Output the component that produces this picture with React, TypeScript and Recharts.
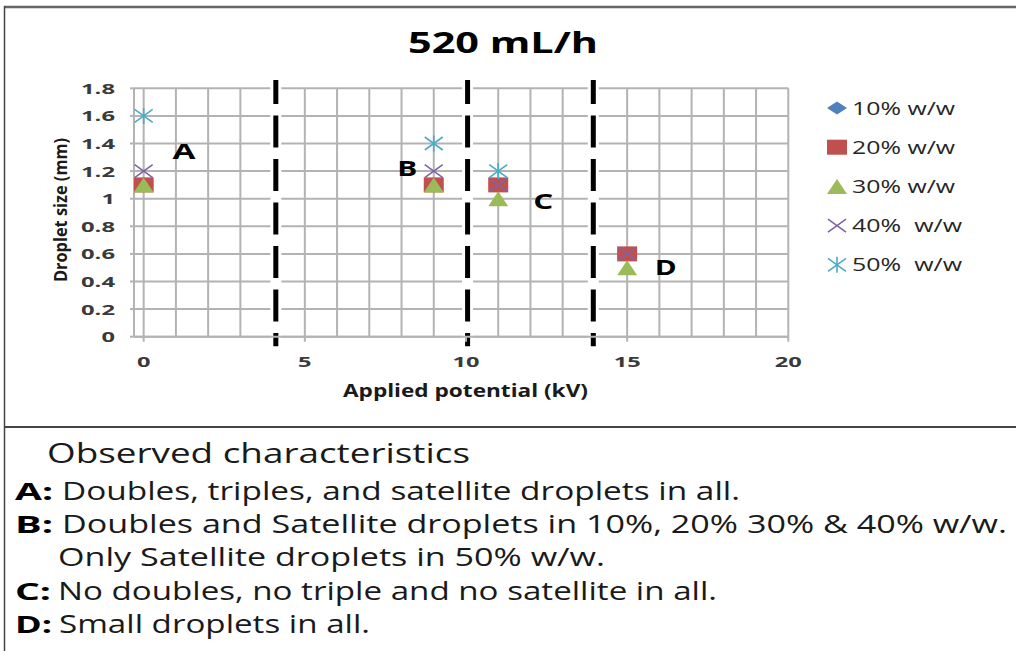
import { ScatterChart, Scatter, XAxis, YAxis, CartesianGrid, ReferenceLine, Legend } from 'recharts';

const TITLE = '520 mL/h';
const X_LABEL = 'Applied potential (kV)';
const Y_LABEL = 'Droplet size (mm)';

// applied potential (kV) and droplet size (mm) per concentration
const VOLTAGES = [0, 9, 11, 15];
const SIZE_10 = [1.1, 1.1, 1.1, 0.6];
const SIZE_20 = [1.1, 1.1, 1.1, 0.6];
const SIZE_30 = [1.1, 1.1, 1.0, 0.5];
const SIZE_40 = [1.2, 1.2, 1.1, 0.6];
const SIZE_50 = [1.6, 1.4, 1.2, null];

const SERIES_NAMES = ['10% w/w', '20% w/w', '30% w/w', '40%  w/w', '50%  w/w'];
const SERIES_VALUES = [SIZE_10, SIZE_20, SIZE_30, SIZE_40, SIZE_50];

const X_TICKS = [0, 1, 2, 3, 4, 5, 6, 7, 8, 9, 10, 11, 12, 13, 14, 15, 16, 17, 18, 19, 20];
const X_LABELED = [0, 5, 10, 15, 20];
const Y_TICKS = [0, 0.2, 0.4, 0.6, 0.8, 1, 1.2, 1.4, 1.6, 1.8];

// regime boundaries (kV) and the region letters
const ZONE_BOUNDS = [4.1, 10.05, 13.95];
const ZONE_LABELS = ['A', 'B', 'C', 'D'];
const ZONE_LABEL_X = [1.25, 8.18, 12.4, 16.2];
const ZONE_LABEL_Y = [1.345, 1.226, 0.98, 0.508];

const NOTES_HEADING = 'Observed characteristics';
const NOTE_KEYS = ['A:', 'B:', '', 'C:', 'D:'];
const NOTE_TEXTS = [
    'Doubles, triples, and satellite droplets in all.',
    'Doubles and Satellite droplets in 10%, 20% 30% & 40% w/w.',
    'Only Satellite droplets in 50% w/w.',
    'No doubles, no triple and no satellite in all.',
    'Small droplets in all.',
];

// styling / layout
const FONT = '"Open Sans", "DejaVu Sans", sans-serif';
const COLORS = ['#4F81BD', '#C0504D', '#9BBB59', '#8064A2', '#4BACC6'];
const SHAPES = ['diamond', 'square', 'triangle', 'cross', 'star'];
const GRID = '#b3b3b3';
const GRID_W = 2;
const TICK_COLOR = '#3a3a3a';
const LEGEND_TEXT_W = [103, 103, 103, 110, 110];
const ZONE_LABEL_W = [23, 20, 20, 22];
const NOTE_LAYOUT = [
    { keyW: 38, x: 62, w: 678, y: 500 },
    { keyW: 38, x: 62, w: 945, y: 533 },
    { keyW: 0, x: 58, w: 547, y: 566 },
    { keyW: 36, x: 58, w: 659, y: 600 },
    { keyW: 37, x: 59, w: 311, y: 633 },
];

const stretch = { lengthAdjust: 'spacingAndGlyphs' as const };

const tickWidth = (s: string) => s.split('').reduce((w, c) => w + (c === '.' ? 7 : 13.5), 0);
const fmtY = (v: number) => String(Math.round(v * 10) / 10);

function Marker({ kind, cx, cy, color }: { kind: string; cx: number; cy: number; color: string }) {
    const w = 10;
    const h = 7.5;
    if (kind === 'diamond') {
        return <polygon points={`${cx - w},${cy} ${cx},${cy - h + 1} ${cx + w},${cy} ${cx},${cy + h - 1}`} fill={color} />;
    }
    if (kind === 'square') {
        return <rect x={cx - w} y={cy - h} width={2 * w} height={2 * h} fill={color} />;
    }
    if (kind === 'triangle') {
        return <polygon points={`${cx - w},${cy + h} ${cx},${cy - h} ${cx + w},${cy + h}`} fill={color} />;
    }
    if (kind === 'cross') {
        return (
            <path
                d={`M${cx - 9},${cy - 6.5}L${cx + 9},${cy + 6.5}M${cx - 9},${cy + 6.5}L${cx + 9},${cy - 6.5}`}
                stroke={color}
                strokeWidth={1.6}
                fill="none"
            />
        );
    }
    return (
        <path
            d={`M${cx - 9},${cy - 6.5}L${cx + 9},${cy + 6.5}M${cx - 9},${cy + 6.5}L${cx + 9},${cy - 6.5}M${cx},${cy - 8}L${cx},${cy + 8}`}
            stroke={color}
            strokeWidth={1.6}
            fill="none"
        />
    );
}

function YTick({ x, y, payload }: any) {
    const label = fmtY(payload.value);
    return (
        <g>
            <line x1={x - 4} x2={x} y1={y} y2={y} stroke={GRID} strokeWidth={GRID_W} />
            <text
                x={x - 19}
                y={y + 5.5}
                textAnchor="end"
                textLength={tickWidth(label)}
                {...stretch}
                fontFamily={FONT}
                fontWeight={700}
                fontSize={15}
                fill={TICK_COLOR}
            >
                {label}
            </text>
        </g>
    );
}

function XTick({ x, y, payload }: any) {
    if (!X_LABELED.includes(payload.value)) return <g />;
    const label = String(payload.value);
    return (
        <g>
            <line x1={x} x2={x} y1={y} y2={y + 5} stroke={GRID} strokeWidth={GRID_W} />
            <text
                x={x}
                y={y + 30}
                textAnchor="middle"
                textLength={tickWidth(label)}
                {...stretch}
                fontFamily={FONT}
                fontWeight={700}
                fontSize={15}
                fill={TICK_COLOR}
            >
                {label}
            </text>
        </g>
    );
}

function ZoneLetter(props: any) {
    const { cx, cy, payload } = props;
    return (
        <text
            x={cx}
            y={cy + 8}
            textAnchor="middle"
            textLength={payload.w}
            {...stretch}
            fontFamily={FONT}
            fontWeight={700}
            fontSize={22}
            fill="#000"
        >
            {payload.label}
        </text>
    );
}

function LegendBox() {
    return (
        <svg width={180} height={200}>
            {SERIES_NAMES.map((name, i) => {
                const cy = 20 + i * 39.2;
                return (
                    <g key={name}>
                        <Marker kind={SHAPES[i]} cx={22} cy={cy} color={COLORS[i]} />
                        <text
                            x={37}
                            y={cy + 6.5}
                            textLength={LEGEND_TEXT_W[i]}
                            {...stretch}
                            fontFamily={FONT}
                            fontSize={18}
                            fill="#262626"
                            style={{ whiteSpace: 'pre' }}
                        >
                            {name}
                        </text>
                    </g>
                );
            })}
        </svg>
    );
}

export default function App() {
    const seriesData = SERIES_VALUES.map(values =>
        VOLTAGES.map((x, i) => ({ x, y: values[i] })).filter(p => p.y !== null)
    );
    const zoneData = ZONE_LABELS.map((label, i) => ({
        x: ZONE_LABEL_X[i],
        y: ZONE_LABEL_Y[i],
        label,
        w: ZONE_LABEL_W[i],
    }));

    return (
        <div style={{ position: 'absolute', left: 0, top: 0, width: 1016, height: 651, background: '#fff' }}>
            <div style={{ position: 'absolute', left: 0, top: 0 }}>
                <ScatterChart width={1016} height={426} margin={{ top: 88.3, right: 227.7, left: 0, bottom: 29.3 }}>
                    <CartesianGrid stroke={GRID} strokeWidth={GRID_W} vertical={false} />
                    <XAxis
                        type="number"
                        dataKey="x"
                        domain={[-0.3, 20]}
                        ticks={X_TICKS}
                        interval={0}
                        allowDataOverflow
                        height={60}
                        tickSize={0}
                        tickMargin={0}
                        tickLine={false}
                        axisLine={{ stroke: GRID, strokeWidth: GRID_W }}
                        tick={<XTick />}
                    />
                    <YAxis
                        type="number"
                        dataKey="y"
                        domain={[0, 1.8]}
                        ticks={Y_TICKS}
                        interval={0}
                        allowDataOverflow
                        width={134}
                        tickSize={0}
                        tickMargin={0}
                        tickLine={false}
                        axisLine={{ stroke: GRID, strokeWidth: GRID_W }}
                        tick={<YTick />}
                    />
                    {/* vertical grid at every kV */}
                    {X_TICKS.map(t => (
                        <ReferenceLine key={`g${t}`} x={t} stroke={GRID} strokeWidth={GRID_W} />
                    ))}
                    {ZONE_BOUNDS.map(b => (
                        <ReferenceLine
                            key={`bg${b}`}
                            segment={[{ x: b, y: 1.86 }, { x: b, y: -0.07 }]}
                            stroke="#fff"
                            strokeWidth={11}
                            ifOverflow="visible"
                        />
                    ))}
                    {ZONE_BOUNDS.map(b => (
                        <ReferenceLine
                            key={`ln${b}`}
                            segment={[{ x: b, y: 1.86 }, { x: b, y: -0.07 }]}
                            stroke="#000"
                            strokeWidth={5}
                            strokeDasharray="32 11.5"
                            strokeDashoffset={8}
                            ifOverflow="visible"
                        />
                    ))}
                    {SERIES_NAMES.map((name, i) => (
                        <Scatter
                            key={name}
                            name={name}
                            data={seriesData[i]}
                            fill={COLORS[i]}
                            isAnimationActive={false}
                            shape={(p: any) => <Marker kind={SHAPES[i]} cx={p.cx} cy={p.cy} color={COLORS[i]} />}
                        />
                    ))}
                    <Scatter
                        name="zones"
                        data={zoneData}
                        legendType="none"
                        isAnimationActive={false}
                        shape={ZoneLetter}
                    />
                    <Legend
                        layout="horizontal"
                        verticalAlign="middle"
                        align="center"
                        wrapperStyle={{ left: 815, top: 88, width: 180, height: 200 }}
                        content={() => <LegendBox />}
                    />
                </ScatterChart>
            </div>
            <svg
                width={1016}
                height={651}
                style={{ position: 'absolute', left: 0, top: 0, pointerEvents: 'none' }}
            >
                <line x1={4} x2={1016} y1={7} y2={7} stroke="#666" strokeWidth={2.5} />
                <line x1={4.5} x2={4.5} y1={6} y2={651} stroke="#444" strokeWidth={1.5} />
                <line x1={4} x2={1016} y1={427} y2={427} stroke="#444" strokeWidth={2} />
                <text
                    x={503}
                    y={53}
                    textAnchor="middle"
                    textLength={190}
                    {...stretch}
                    fontFamily={FONT}
                    fontWeight={700}
                    fontSize={28}
                    fill="#000"
                >
                    {TITLE}
                </text>
                <text
                    x={465.5}
                    y={397}
                    textAnchor="middle"
                    textLength={245}
                    {...stretch}
                    fontFamily={FONT}
                    fontWeight={700}
                    fontSize={17}
                    fill="#1a1a1a"
                >
                    {X_LABEL}
                </text>
                <text
                    transform="translate(67,210) rotate(-90)"
                    textAnchor="middle"
                    textLength={144}
                    {...stretch}
                    fontFamily={FONT}
                    fontWeight={700}
                    fontSize={17}
                    fill="#1a1a1a"
                >
                    {Y_LABEL}
                </text>
                <text
                    x={47}
                    y={463}
                    textLength={423}
                    {...stretch}
                    fontFamily={FONT}
                    fontSize={28}
                    fill="#1a1a1a"
                >
                    {NOTES_HEADING}
                </text>
                {NOTE_TEXTS.map((t, i) => {
                    const l = NOTE_LAYOUT[i];
                    return (
                        <g key={i}>
                            {NOTE_KEYS[i] && (
                                <text
                                    x={15}
                                    y={l.y}
                                    textLength={l.keyW}
                                    {...stretch}
                                    fontFamily={FONT}
                                    fontWeight={700}
                                    fontSize={24}
                                    fill="#000"
                                >
                                    {NOTE_KEYS[i]}
                                </text>
                            )}
                            <text
                                x={l.x}
                                y={l.y}
                                textLength={l.w}
                                {...stretch}
                                fontFamily={FONT}
                                fontSize={25}
                                fill="#1a1a1a"
                            >
                                {t}
                            </text>
                        </g>
                    );
                })}
            </svg>
        </div>
    );
}
